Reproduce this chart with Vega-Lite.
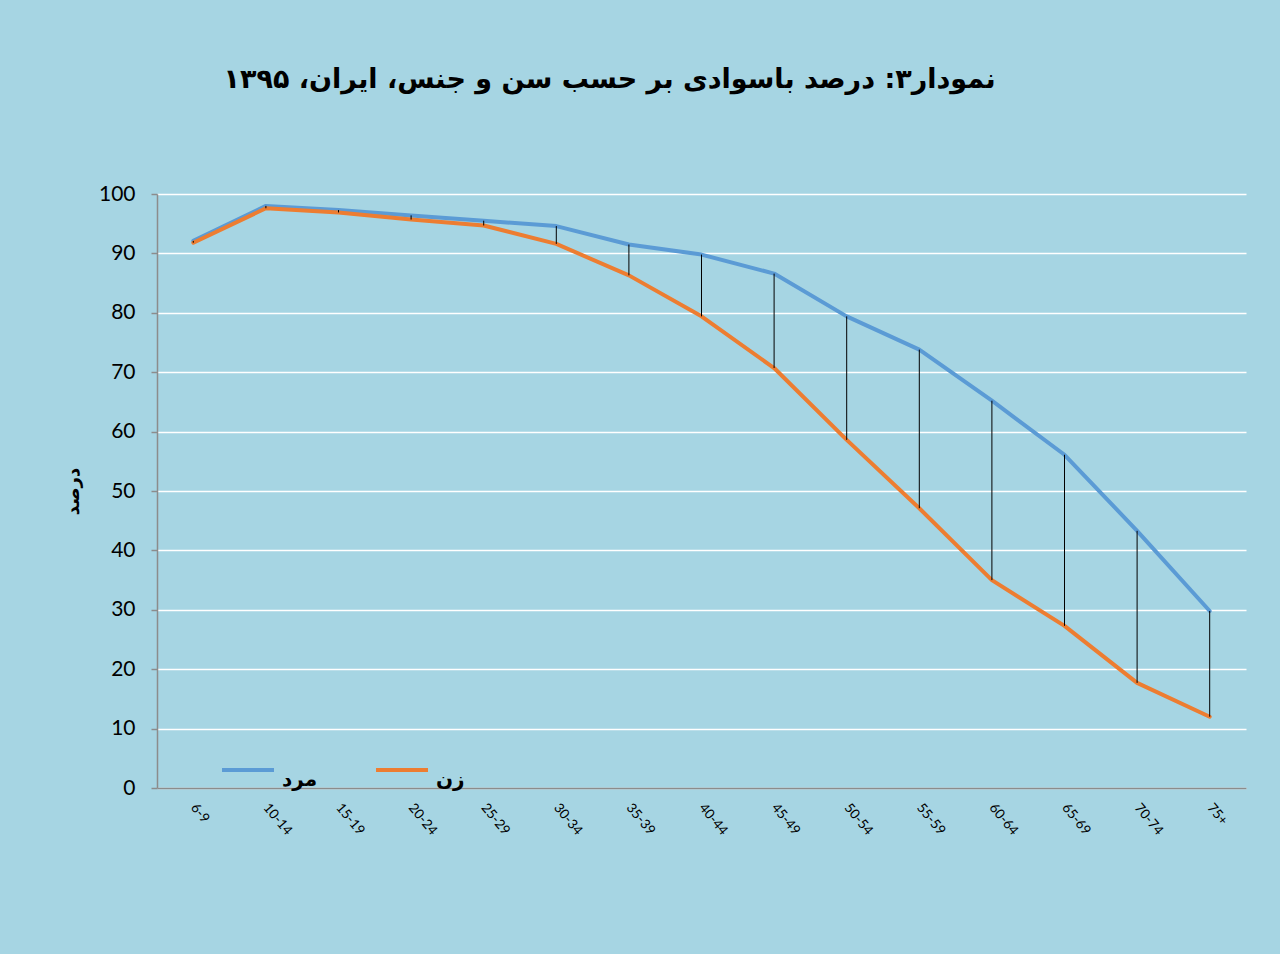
{
  "$schema": "https://vega.github.io/schema/vega-lite/v6.json",
  "width": 1089,
  "height": 594,
  "autosize": {"type": "none"},
  "padding": {"left": 157, "top": 194, "right": 34, "bottom": 166},
  "background": "#a6d5e3",
  "config": {
    "view": {"stroke": null},
    "font": "Lato"
  },
  "title": {
    "text": "نمودار۳: درصد باسوادی بر حسب سن و جنس، ایران، ۱۳۹۵",
    "font": "DejaVu Sans",
    "fontSize": 27,
    "fontWeight": "bold",
    "color": "#000000",
    "anchor": "middle",
    "dx": -92,
    "offset": 89
  },
  "data": {
    "values": [
      {"age": "6-9", "male": 92.1, "female": 91.8},
      {"age": "10-14", "male": 98.0, "female": 97.6},
      {"age": "15-19", "male": 97.3, "female": 96.9},
      {"age": "20-24", "male": 96.4, "female": 95.7},
      {"age": "25-29", "male": 95.5, "female": 94.7},
      {"age": "30-34", "male": 94.6, "female": 91.6},
      {"age": "35-39", "male": 91.5, "female": 86.3},
      {"age": "40-44", "male": 89.8, "female": 79.4},
      {"age": "45-49", "male": 86.6, "female": 70.7},
      {"age": "50-54", "male": 79.4, "female": 58.6},
      {"age": "55-59", "male": 73.8, "female": 47.1},
      {"age": "60-64", "male": 65.2, "female": 35.0},
      {"age": "65-69", "male": 56.1, "female": 27.3},
      {"age": "70-74", "male": 43.3, "female": 17.7},
      {"age": "75+", "male": 29.8, "female": 12.0}
    ]
  },
  "encoding": {
    "x": {
      "field": "age",
      "type": "nominal",
      "sort": null,
      "scale": {"paddingInner": 0, "paddingOuter": 0},
      "axis": {
        "title": null,
        "labelAngle": 50,
        "labelAlign": "left",
        "labelBaseline": "middle",
        "labelFontSize": 13.5,
        "labelColor": "#000000",
        "labelPadding": 17,
        "ticks": false,
        "domainColor": "#8c8c8c",
        "domainWidth": 1.5,
        "grid": false
      }
    }
  },
  "layer": [
    {
      "transform": [{"fold": ["male", "female"], "as": ["sex", "pct"]}],
      "mark": {"type": "line", "strokeWidth": 4, "strokeCap": "round", "strokeJoin": "round"},
      "encoding": {
        "y": {
          "field": "pct",
          "type": "quantitative",
          "scale": {"domain": [0, 100], "nice": false},
          "axis": {
            "values": [0, 10, 20, 30, 40, 50, 60, 70, 80, 90, 100],
            "title": "درصد",
            "titleFont": "DejaVu Sans",
            "titleFontSize": 18,
            "titleFontWeight": "bold",
            "titleColor": "#000000",
            "titlePadding": 16,
            "labelFontSize": 21,
            "labelColor": "#000000",
            "labelPadding": 16,
            "tickColor": "#8c8c8c",
            "tickSize": 6,
            "tickWidth": 1.5,
            "domainColor": "#8c8c8c",
            "domainWidth": 1.5,
            "gridColor": "#ffffff",
            "gridWidth": 1.5,
            "gridOpacity": 1
          }
        },
        "color": {
          "field": "sex",
          "type": "nominal",
          "scale": {"domain": ["male", "female"], "range": ["#5b9bd5", "#ed7d31"]},
          "legend": {
            "title": null,
            "orient": "none",
            "legendX": 63,
            "legendY": 548,
            "direction": "horizontal",
            "symbolType": "stroke",
            "symbolSize": 2700,
            "symbolStrokeWidth": 4,
            "labelExpr": "datum.label == 'male' ? 'مرد' : 'زن'",
            "labelFont": "DejaVu Sans",
            "labelFontSize": 20,
            "labelFontWeight": "bold",
            "labelColor": "#000000",
            "labelOffset": 6,
            "labelBaseline": "top",
            "columnPadding": 50
          }
        }
      }
    },
    {
      "mark": {"type": "rule", "color": "#000000", "strokeWidth": 1},
      "encoding": {
        "y": {"field": "male", "type": "quantitative"},
        "y2": {"field": "female"}
      }
    }
  ]
}
